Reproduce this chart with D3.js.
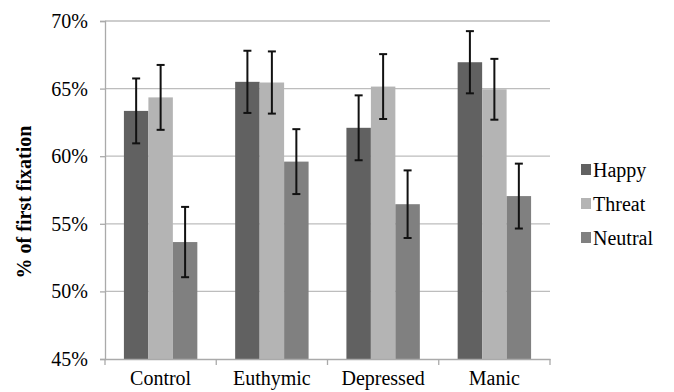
<!DOCTYPE html>
<html>
<head>
    <meta charset="UTF-8">
    <script src="https://d3js.org/d3.v7.min.js"></script>
</head>
<body style="margin:0">
    <script>
        // data (percent)
        const groups = ["Control", "Euthymic", "Depressed", "Manic"];
        const conditions = ["Happy", "Threat", "Neutral"];
        const happy = [63.35, 65.5, 62.1, 66.95];
        const threat = [64.35, 65.45, 65.15, 64.95];
        const neutral = [53.65, 59.6, 56.45, 57.05];
        const happyErr = [2.4, 2.3, 2.4, 2.3];
        const threatErr = [2.4, 2.3, 2.4, 2.25];
        const neutralErr = [2.6, 2.4, 2.5, 2.4];
        const yTicks = [45, 50, 55, 60, 65, 70];
        const colors = ["#616161", "#b4b4b4", "#808080"];

        const fontFam = '"Liberation Serif"';

        const rows = groups.map((g, i) => ({
            group: g,
            values: [
                { key: "Happy", v: happy[i], e: happyErr[i] },
                { key: "Threat", v: threat[i], e: threatErr[i] },
                { key: "Neutral", v: neutral[i], e: neutralErr[i] }
            ]
        }));

        const width = 674, height = 392;
        const margin = { top: 21, right: 124, bottom: 33, left: 105 };
        const innerW = width - margin.left - margin.right;
        const innerH = height - margin.top - margin.bottom;

        const svg = d3.select("body").append("svg")
            .attr("width", width)
            .attr("height", height);

        const x0 = d3.scaleBand()
            .domain(groups)
            .range([margin.left, margin.left + innerW])
            .paddingInner(0.34)
            .paddingOuter(0.17);

        const x1 = d3.scaleBand()
            .domain(conditions)
            .range([0, x0.bandwidth()]);

        const y = d3.scaleLinear()
            .domain([45, 70])
            .range([margin.top + innerH, margin.top]);

        const color = d3.scaleOrdinal().domain(conditions).range(colors);

        // text labels
        svg.selectAll("text.ytick")
            .data(yTicks)
            .join("text")
            .attr("class", "ytick")
            .attr("x", margin.left - 17)
            .attr("y", d => y(d) + 7)
            .attr("text-anchor", "end")
            .style("font-family", fontFam)
            .style("font-size", "20px")
            .text(d => d + "%");

        svg.selectAll("text.xlab")
            .data(groups)
            .join("text")
            .attr("class", "xlab")
            .attr("x", d => x0(d) + x0.bandwidth() / 2)
            .attr("y", 385)
            .attr("text-anchor", "middle")
            .style("font-family", fontFam)
            .style("font-size", "20px")
            .text(d => d);

        svg.selectAll("text.leg")
            .data(conditions)
            .join("text")
            .attr("class", "leg")
            .attr("x", 593)
            .attr("y", (d, i) => 177 + i * 34)
            .style("font-family", fontFam)
            .style("font-size", "20px")
            .text(d => d);

        svg.append("g")
            .attr("transform", "translate(31,202) rotate(-90)")
            .append("text")
            .attr("class", "ytitle")
            .attr("text-anchor", "middle")
            .style("font-family", fontFam)
            .style("font-weight", "bold")
            .style("font-size", "20px")
            .text("% of first fixation");

        // gridlines
        svg.append("g")
            .selectAll("line")
            .data(yTicks.slice(1))
            .join("line")
            .attr("x1", margin.left)
            .attr("x2", margin.left + innerW)
            .attr("y1", d => y(d))
            .attr("y2", d => y(d))
            .attr("stroke", "#bdbdbd")
            .attr("stroke-width", 1.3);

        // y axis (line and ticks only)
        const yAxis = svg.append("g")
            .attr("transform", `translate(${margin.left},0)`)
            .call(d3.axisLeft(y).tickValues(yTicks).tickFormat("").tickSize(5));
        yAxis.select(".domain").attr("stroke", "#aaa").attr("stroke-width", 1.3);
        yAxis.selectAll(".tick line").attr("stroke", "#aaa").attr("stroke-width", 1.3);
        yAxis.selectAll(".tick text").remove();

        // bars
        const grp = svg.append("g")
            .selectAll("g")
            .data(rows)
            .join("g")
            .attr("transform", d => `translate(${x0(d.group)},0)`);

        grp.selectAll("rect")
            .data(d => d.values)
            .join("rect")
            .attr("x", d => x1(d.key))
            .attr("width", x1.bandwidth())
            .attr("y", d => y(d.v))
            .attr("height", d => y(45) - y(d.v))
            .attr("fill", d => color(d.key));

        // error bars
        const eb = grp.selectAll("g.err")
            .data(d => d.values)
            .join("g")
            .attr("class", "err")
            .attr("stroke", "#111")
            .attr("stroke-width", 2);
        eb.append("line")
            .attr("x1", d => x1(d.key) + x1.bandwidth() / 2)
            .attr("x2", d => x1(d.key) + x1.bandwidth() / 2)
            .attr("y1", d => y(d.v + d.e))
            .attr("y2", d => y(d.v - d.e));
        eb.append("line")
            .attr("x1", d => x1(d.key) + x1.bandwidth() / 2 - 4)
            .attr("x2", d => x1(d.key) + x1.bandwidth() / 2 + 4)
            .attr("y1", d => y(d.v + d.e))
            .attr("y2", d => y(d.v + d.e));
        eb.append("line")
            .attr("x1", d => x1(d.key) + x1.bandwidth() / 2 - 4)
            .attr("x2", d => x1(d.key) + x1.bandwidth() / 2 + 4)
            .attr("y1", d => y(d.v - d.e))
            .attr("y2", d => y(d.v - d.e));

        // x axis line with ticks between categories
        const xAxis = svg.append("g")
            .attr("transform", `translate(0,${y(45)})`)
            .call(d3.axisBottom(x0).tickSize(0).tickFormat(""));
        xAxis.selectAll(".tick").remove();
        xAxis.select(".domain").attr("stroke", "#aaa").attr("stroke-width", 1.3);
        xAxis.selectAll("line.sep")
            .data(d3.range(groups.length + 1))
            .join("line")
            .attr("class", "sep")
            .attr("x1", i => margin.left + i * x0.step())
            .attr("x2", i => margin.left + i * x0.step())
            .attr("y1", 0)
            .attr("y2", 6)
            .attr("stroke", "#aaa")
            .attr("stroke-width", 1.3);

        // legend swatches
        svg.selectAll("rect.sw")
            .data(conditions)
            .join("rect")
            .attr("class", "sw")
            .attr("x", 581)
            .attr("y", (d, i) => 164 + i * 34)
            .attr("width", 10)
            .attr("height", 11)
            .attr("fill", d => color(d));
    </script>
</body>
</html>
